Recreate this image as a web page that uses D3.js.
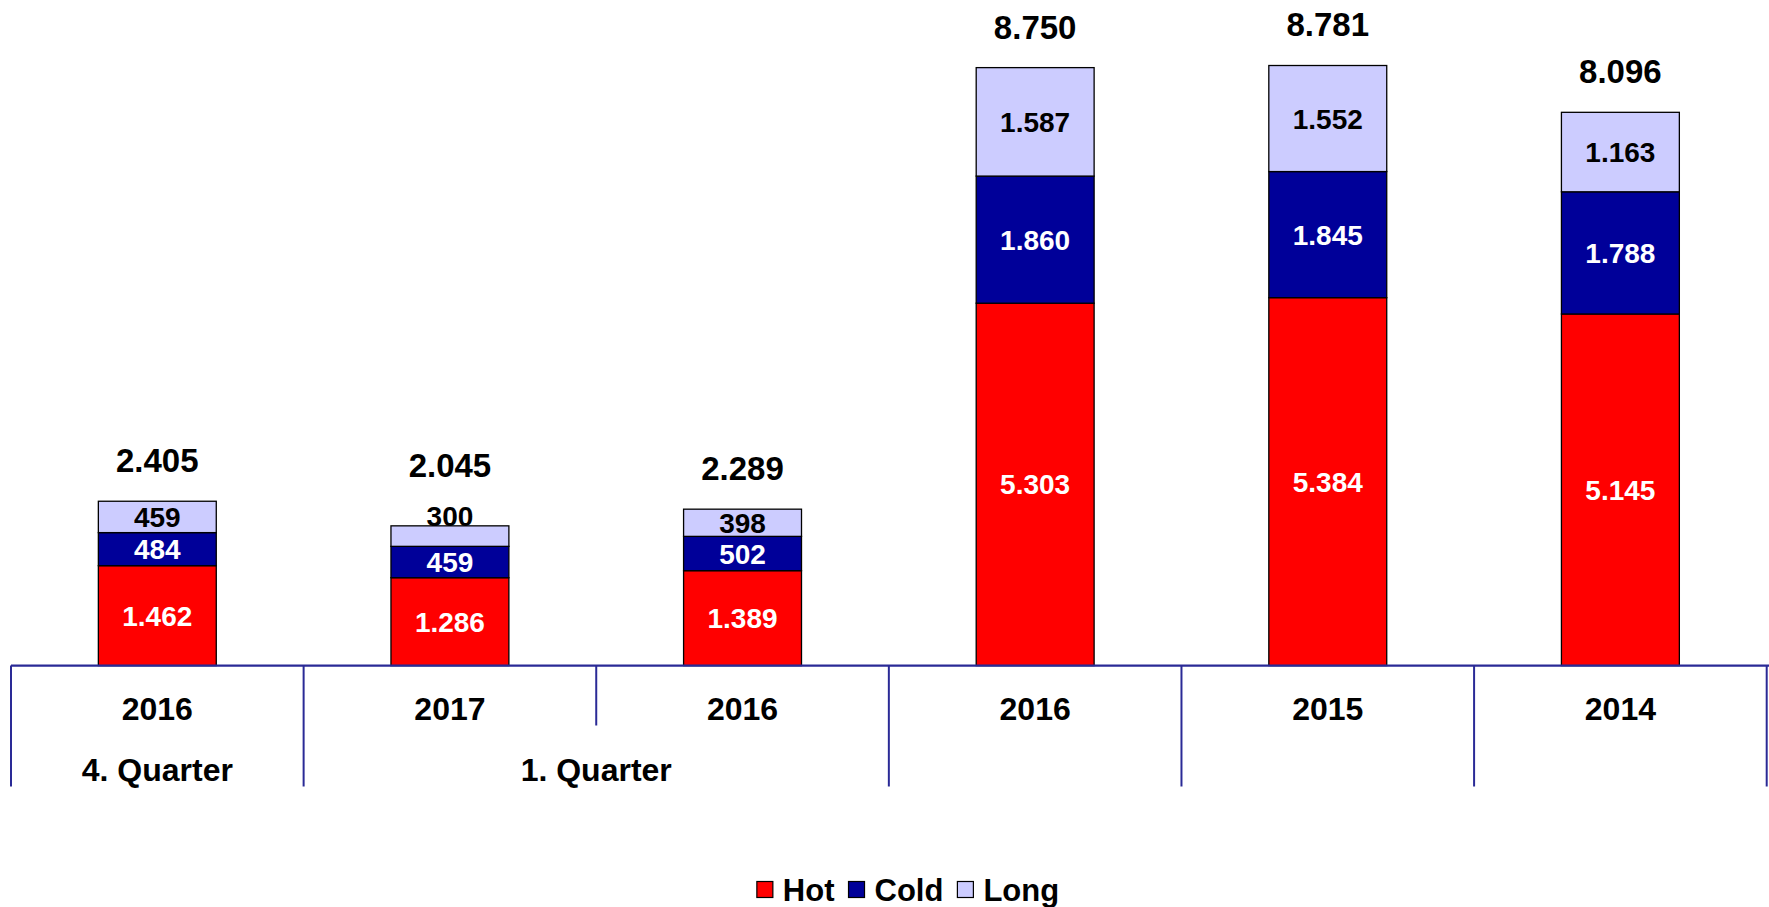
<!DOCTYPE html>
<html>
<head>
<meta charset="utf-8">
<script src="https://cdn.jsdelivr.net/npm/d3@7"></script>
<style>
  html, body { margin: 0; padding: 0; background: #fff; }
  svg { display: block; }
  text { font-family: "Liberation Sans", Arial, Helvetica, sans-serif; font-weight: bold; }
</style>
</head>
<body>
<svg id="chart" width="1769" height="907"></svg>
<script>
// ---- data ----
const years    = ["2016", "2017", "2016", "2016", "2015", "2014"];
const groups   = ["4. Quarter", "1. Quarter", "1. Quarter", "", "", ""];
const hot      = [1462, 1286, 1389, 5303, 5384, 5145];
const cold     = [484, 459, 502, 1860, 1845, 1788];
const long     = [459, 300, 398, 1587, 1552, 1163];
const totals   = [2405, 2045, 2289, 8750, 8781, 8096];
const seriesNames = ["Hot", "Cold", "Long"];
const seriesColors = ["#ff0000", "#000099", "#ccccff"];
const labelColors  = ["#ffffff", "#ffffff", "#000000"];

// ---- layout ----
const W = 1769, H = 907;
const baseY = 665.6;
const axisColor = "#2a2a96";
const svg = d3.select("#chart");

const fmt = d3.formatLocale({decimal: ",", thousands: ".", grouping: [3], currency: ["", "€"]}).format(",d");

const idx = d3.range(years.length);
const xBand = d3.scaleBand().domain(idx).range([11, 1766.7]).paddingInner(0).paddingOuter(0);
const xBar = d3.scaleBand().domain(idx).range([11, 1766.7]).paddingInner(0.597).paddingOuter(0.2985);
const y = d3.scaleLinear().domain([0, 9000]).range([baseY, baseY - 9000 * 0.06834]);

const rows = idx.map(i => ({i, Hot: hot[i], Cold: cold[i], Long: long[i]}));
const stack = d3.stack().keys(seriesNames)(rows);

// bars
const gBars = svg.append("g");
stack.forEach((layer, si) => {
  gBars.selectAll(null).data(layer).enter().append("rect")
    .attr("x", d => xBar(d.data.i))
    .attr("width", xBar.bandwidth())
    .attr("y", d => y(d[1]))
    .attr("height", d => y(d[0]) - y(d[1]))
    .attr("fill", seriesColors[si])
    .attr("stroke", "#000")
    .attr("stroke-width", 1.3);
});

// segment labels
const topLabelTop = idx.map(i => y(totals[i]));
stack.forEach((layer, si) => {
  layer.forEach(d => {
    const y0 = y(d[0]), y1 = y(d[1]);
    const h = y0 - y1;
    let cy = (y0 + y1) / 2;
    if (h < 26) {
      cy = y1 - 10;
      topLabelTop[d.data.i] = Math.min(topLabelTop[d.data.i], cy - 10);
    }
    svg.append("text")
      .attr("x", xBar(d.data.i) + xBar.bandwidth() / 2)
      .attr("y", cy)
      .attr("dy", "0.36em")
      .attr("text-anchor", "middle")
      .attr("font-size", 28)
      .attr("fill", h < 26 ? "#000" : labelColors[si])
      .text(fmt(d.data[seriesNames[si]]));
  });
});

// total labels
idx.forEach(i => {
  svg.append("text")
    .attr("x", xBar(i) + xBar.bandwidth() / 2)
    .attr("y", topLabelTop[i] - 41)
    .attr("dy", "0.36em")
    .attr("text-anchor", "middle")
    .attr("font-size", 33)
    .attr("fill", "#000")
    .text(fmt(totals[i]));
});

// category axis (multi-level)
const gAxis = svg.append("g");
gAxis.append("line")
  .attr("x1", 11).attr("x2", W).attr("y1", baseY).attr("y2", baseY)
  .attr("stroke", axisColor).attr("stroke-width", 2.2);

// separators: long where group changes, short inside a group
const sepXs = idx.map(i => xBand(i)).concat([xBand(idx.length - 1) + xBand.step()]);
sepXs.forEach((sx, k) => {
  let longSep = true;
  if (k > 0 && k < idx.length && groups[k] !== "" && groups[k] === groups[k - 1]) longSep = false;
  gAxis.append("line")
    .attr("x1", sx).attr("x2", sx)
    .attr("y1", baseY).attr("y2", longSep ? 786.5 : 725.5)
    .attr("stroke", axisColor).attr("stroke-width", 2);
});

// year labels
idx.forEach(i => {
  gAxis.append("text")
    .attr("x", xBand(i) + xBand.step() / 2)
    .attr("y", 708)
    .attr("dy", "0.36em")
    .attr("text-anchor", "middle")
    .attr("font-size", 32)
    .attr("fill", "#000")
    .text(years[i]);
});

// group labels
const groupSpans = [];
idx.forEach(i => {
  if (groups[i] === "") return;
  const last = groupSpans[groupSpans.length - 1];
  if (last && last.name === groups[i] && last.end === i - 1) last.end = i;
  else groupSpans.push({name: groups[i], start: i, end: i});
});
groupSpans.forEach(g => {
  const x0 = xBand(g.start), x1 = xBand(g.end) + xBand.step();
  gAxis.append("text")
    .attr("x", (x0 + x1) / 2)
    .attr("y", 769)
    .attr("dy", "0.36em")
    .attr("text-anchor", "middle")
    .attr("font-size", 32)
    .attr("fill", "#000")
    .text(g.name);
});

// legend
const gLeg = svg.append("g");
const sq = 16, gapTxt = 10, gapItem = 14, legFont = 31;
let cursor = 0;
const items = seriesNames.map((name, si) => {
  const g = gLeg.append("g");
  g.append("rect").attr("x", 0).attr("y", -sq / 2).attr("width", sq).attr("height", sq)
    .attr("fill", seriesColors[si]).attr("stroke", "#000").attr("stroke-width", 1.2);
  const t = g.append("text").attr("x", sq + gapTxt).attr("y", 0).attr("dy", "0.36em")
    .attr("font-size", legFont).attr("fill", "#000").text(name);
  const w = sq + gapTxt + t.node().getComputedTextLength();
  g.attr("transform", `translate(${cursor},0)`);
  cursor += w + gapItem;
  return g;
});
const legW = cursor - gapItem;
gLeg.attr("transform", `translate(${908 - legW / 2}, 889.5)`);
</script>
</body>
</html>
